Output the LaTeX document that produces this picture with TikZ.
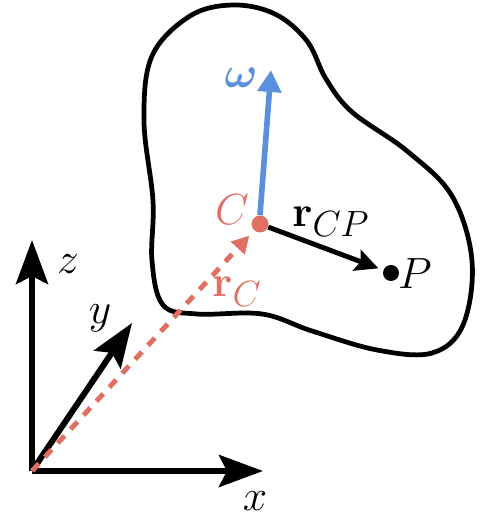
\documentclass[tikz,border=0pt]{standalone}
\usepackage{amsmath,amssymb,bm}
\usepackage{tikz}
\usetikzlibrary{calc,arrows.meta}
\definecolor{OmegaCol}{HTML}{5B90DC}
\definecolor{CmCol}{HTML}{E07062}

\begin{document}
\begin{tikzpicture}[font=\Huge,
  axis/.style={line width=3.4pt,-{Stealth[length=0.88cm,width=0.64cm,inset=0.16cm]}},
  vec/.style={line width=2.8pt,-{Stealth[length=0.46cm,width=0.44cm,inset=0.08cm]}},
  lbl/.style={inner sep=1pt}]
  \useasboundingbox (-0.64,-0.92) rectangle (8.98,9.42);
  % rigid body
  \draw[line width=2.7pt] plot[smooth cycle, tension=0.6] coordinates {
    (3.16,9.10) (4.02,9.32) (4.86,9.14) (5.50,8.60) (5.88,7.84) (6.40,7.18)
    (7.50,6.40) (8.40,5.50) (8.80,4.20) (8.62,2.92) (8.00,2.36) (6.90,2.42)
    (5.60,2.80) (4.60,3.14) (3.30,3.14) (2.62,3.32) (2.40,4.20) (2.42,5.40)
    (2.24,7.00) (2.40,8.30)};
  % frame
  \coordinate (O) at (0,0);
  \coordinate (xtip) at (4.62,0);
  \coordinate (ztip) at (0,4.62);
  \coordinate (ytip) at (2.0,2.96);
  \draw[axis] (O) -- (xtip);
  \draw[axis] (O) -- (ztip);
  \draw[axis] (O) -- (ytip);
  \node[lbl] (xlab) at (4.46,-0.6) {$x$};
  \node[lbl] (zlab) at (0.72,4.14) {$z$};
  \node[lbl] (ylab) at (1.36,3.06) {$y$};
  % points
  \node[circle, fill=CmCol, inner sep=0pt, minimum size=0.34cm] (C) at (4.56,4.94) {};
  \node[circle, fill=black, inner sep=0pt, minimum size=0.32cm] (P) at (7.18,3.96) {};
  \coordinate (wtip) at (4.78,8.02);
  \draw[OmegaCol, line width=3.2pt, -{Triangle[length=0.44cm,width=0.46cm]}]
    (C.north) -- (wtip);
  \draw[vec, shorten >=0.1cm] (C) -- (P);
  \draw[CmCol, line width=2.8pt, dash pattern=on 0.2cm off 0.18cm,
    -{Triangle[length=0.34cm,width=0.36cm]}, shorten >=0.14cm] (O) -- (C);
  % labels
  \node[OmegaCol, lbl] (wlab) at (4.18,7.86) {$\bm{\omega}$};
  \node[CmCol, lbl] (Clab) at (4.0,5.22) {$C$};
  \node[lbl] (rcplab) at (5.98,4.98) {$\mathbf{r}_{CP}$};
  \node[lbl] (Plab) at (7.66,3.94) {$P$};
  \node[CmCol, lbl] (rclab) at (4.1,3.58) {$\mathbf{r}_C$};
\end{tikzpicture}
\end{document}
